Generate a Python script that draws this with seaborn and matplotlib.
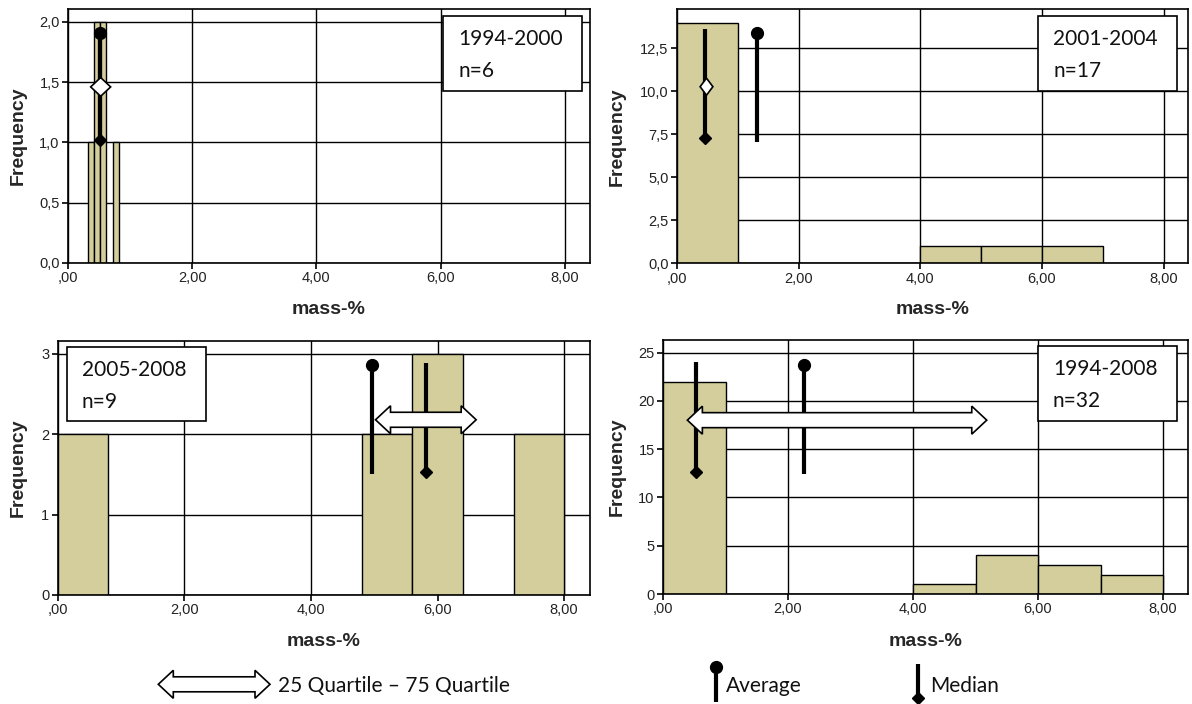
import numpy as np
import pandas as pd
import matplotlib
matplotlib.use("Agg")
import matplotlib.pyplot as plt
from matplotlib.patches import Polygon, Rectangle
from matplotlib.lines import Line2D
import seaborn as sns

# ---------------- data ----------------
period_labels = ["1994-2000", "2001-2004", "2005-2008", "1994-2008"]
n_values = [6, 17, 9, 32]

edges_1 = [0.32, 0.42, 0.52, 0.62, 0.72, 0.82]
counts_1 = [1, 2, 2, 0, 1]
edges_2 = [0, 1, 2, 3, 4, 5, 6, 7]
counts_2 = [14, 0, 0, 0, 1, 1, 1]
edges_3 = [0.0, 0.8, 1.6, 2.4, 3.2, 4.0, 4.8, 5.6, 6.4, 7.2, 8.0]
counts_3 = [2, 0, 0, 0, 0, 0, 2, 3, 0, 2]
edges_4 = [0, 1, 2, 3, 4, 5, 6, 7, 8]
counts_4 = [22, 0, 0, 0, 1, 4, 3, 2]

mean_x = [0.52, 1.31, 4.97, 2.26]
mean_top = [1.91, 13.4, 2.86, 23.7]
mean_bottom = [1.01, 7.07, 1.50, 12.4]
median_x = [0.52, 0.465, 5.82, 0.53]
median_top = [1.94, 13.6, 2.89, 24.0]
median_bottom = [1.02, 7.27, 1.53, 12.6]
q25 = [0.365, 0.38, 5.02, 0.39]
q75 = [0.687, 0.59, 6.61, 5.18]
q_level = [1.46, 10.27, 2.18, 18.0]

y_ticks = [[0, 0.5, 1.0, 1.5, 2.0],
           [0, 2.5, 5.0, 7.5, 10.0, 12.5],
           [0, 1, 2, 3],
           [0, 5, 10, 15, 20, 25]]
y_decimals = [1, 1, 0, 0]
y_max = [2.11, 14.77, 3.16, 26.3]
x_ticks = [0, 2, 4, 6, 8]
x_max = 8.4

legend_quartile = "25 Quartile \u2013 75 Quartile"
legend_average = "Average"
legend_median = "Median"
x_label = "mass-%"
y_label = "Frequency"

# ---------------- layout (pixels) ----------------
W, H = 1192, 704
axes_px = [(68, 8.5, 589.5, 263), (677, 9.3, 1188, 263.3),
           (57.7, 341, 589.5, 595), (663, 340, 1188, 594)]
box_px = [(443.3, 16, 581.7, 90.7), (1038.3, 16, 1176.7, 90.7),
          (66.7, 346.7, 205.7, 420.7), (1038, 346, 1176.7, 421)]
ylabel_x_px = [18, 617, 18, 617]
xlabel_y_px = [310, 310, 641, 641]

BAR = "#d3ce9b"
TICKFONT = "Liberation Sans"
BOXFONT = "Lato"

sns.set_theme(style="white")
plt.rcParams["font.family"] = ["Liberation Sans", "DejaVu Sans"]

fig = plt.figure(figsize=(W / 100, H / 100), dpi=100)
fig.patch.set_facecolor("white")


def fx(px):
    return px / W


def fy(py):
    return 1 - py / H


def xfmt(v):
    s = f"{v:.2f}".replace(".", ",")
    if s.startswith("0,"):
        s = s[1:]
    return s


def darrow_display(x0, x1, yc, shaft=7.5, head=14.0, hlen=15.0):
    d = x1 - x0
    if d < 2 * hlen:
        L = d / 2
        hh = max(8.5, head * d / (2 * hlen))
        return [(x0, yc), (x0 + L, yc + hh), (x1, yc), (x0 + L, yc - hh)]
    return [(x0, yc), (x0 + hlen, yc + head), (x0 + hlen, yc + shaft),
            (x1 - hlen, yc + shaft), (x1 - hlen, yc + head), (x1, yc),
            (x1 - hlen, yc - head), (x1 - hlen, yc - shaft),
            (x0 + hlen, yc - shaft), (x0 + hlen, yc - head)]


all_edges = [edges_1, edges_2, edges_3, edges_4]
all_counts = [counts_1, counts_2, counts_3, counts_4]

for i in range(4):
    l, t, r, b = axes_px[i]
    ax = fig.add_axes([fx(l), fy(b), fx(r) - fx(l), fy(t) - fy(b)])
    e = np.array(all_edges[i], dtype=float)
    df = pd.DataFrame({"center": (e[:-1] + e[1:]) / 2,
                       "count": np.array(all_counts[i], dtype=float)})
    sns.histplot(data=df, x="center", weights="count", bins=list(e), ax=ax,
                 color=BAR, edgecolor="black", linewidth=1.0, alpha=1.0,
                 stat="count", zorder=2)
    ax.set_xlim(0, x_max)
    ax.set_ylim(0, y_max[i])
    ax.set_xticks(x_ticks)
    ax.set_xticklabels([xfmt(v) for v in x_ticks], fontfamily=TICKFONT)
    yt = y_ticks[i]
    ax.set_yticks(yt)
    if y_decimals[i] == 1:
        ax.set_yticklabels([f"{v:.1f}".replace(".", ",") for v in yt],
                           fontfamily=TICKFONT)
    else:
        ax.set_yticklabels([f"{int(v)}" for v in yt], fontfamily=TICKFONT)
    ax.grid(True, color="black", linewidth=1.0)
    ax.set_axisbelow(True)
    for sp in ax.spines.values():
        sp.set_color("black")
        sp.set_linewidth(1.2)
    ax.tick_params(axis="both", direction="out", length=4, width=1.2,
                   color="black", labelsize=10.5, labelcolor="#222222", pad=2,
                   bottom=True, left=True)

    ax.set_xlabel(x_label, fontsize=14, fontweight="bold", family=TICKFONT)
    ax.set_ylabel(y_label, fontsize=14, fontweight="bold", family=TICKFONT)
    ax.xaxis.label.set_va("center")
    ax.yaxis.label.set_va("center")
    ax.xaxis.set_label_coords(0.5, (b - xlabel_y_px[i]) / (b - t))
    ax.yaxis.set_label_coords((ylabel_x_px[i] - l) / (r - l), 0.5)

    # average: vertical line with circle on top
    ax.plot([mean_x[i], mean_x[i]], [mean_bottom[i], mean_top[i]],
            color="black", lw=3.0, solid_capstyle="butt", zorder=5)
    ax.plot([mean_x[i]], [mean_top[i]], marker="o", ms=8.5, color="black",
            zorder=6, linestyle="none")
    # median: vertical line with diamond at the bottom
    ax.plot([median_x[i], median_x[i]], [median_bottom[i], median_top[i]],
            color="black", lw=3.0, solid_capstyle="butt", zorder=5)
    ax.plot([median_x[i]], [median_bottom[i]], marker="D", ms=6.5,
            color="black", zorder=6, linestyle="none")

    # quartile double arrow
    p0 = ax.transData.transform((q25[i], q_level[i]))
    p1 = ax.transData.transform((q75[i], q_level[i]))
    verts_disp = darrow_display(p0[0], p1[0], p0[1])
    verts_data = ax.transData.inverted().transform(verts_disp)
    ax.add_patch(Polygon(verts_data, closed=True, facecolor="white",
                         edgecolor="black", linewidth=1.2, zorder=7))

    # period text box
    bl, bt, br, bb = box_px[i]
    fig.add_artist(Rectangle((fx(bl), fy(bb)), fx(br) - fx(bl), fy(bt) - fy(bb),
                             transform=fig.transFigure, facecolor="white",
                             edgecolor="black", linewidth=1.2, zorder=3))
    fig.text(fx(bl + 15), fy(bt + 23), period_labels[i], family=BOXFONT,
             fontsize=15, va="center", ha="left", color="#111111", zorder=4)
    fig.text(fx(bl + 15), fy(bt + 55), f"n={n_values[i]}", family=BOXFONT,
             fontsize=15, va="center", ha="left", color="#111111", zorder=4)

# ---------------- bottom legend ----------------
inv = fig.transFigure.inverted()
leg_y = 684.3
legend_arrow = darrow_display(158.3, 270, H - leg_y)
fig.add_artist(Polygon(inv.transform(legend_arrow), closed=True,
                       facecolor="white", edgecolor="black", linewidth=1.2,
                       transform=fig.transFigure, zorder=3))
fig.text(fx(278), fy(leg_y + 2), legend_quartile, family=BOXFONT, fontsize=15,
         va="center", ha="left", color="#111111")

fig.add_artist(Line2D([fx(716), fx(716)], [fy(667), fy(702)], color="black",
                      lw=3.0, solid_capstyle="butt", transform=fig.transFigure))
fig.add_artist(Line2D([fx(716)], [fy(667)], marker="o", ms=8.5, color="black",
                      transform=fig.transFigure))
fig.text(fx(726), fy(leg_y + 2), legend_average, family=BOXFONT, fontsize=15,
         va="center", ha="left", color="#111111")

fig.add_artist(Line2D([fx(918), fx(918)], [fy(664), fy(698)], color="black",
                      lw=3.0, solid_capstyle="butt", transform=fig.transFigure))
fig.add_artist(Line2D([fx(918)], [fy(698)], marker="D", ms=6.5, color="black",
                      transform=fig.transFigure))
fig.text(fx(930), fy(leg_y + 2), legend_median, family=BOXFONT, fontsize=15,
         va="center", ha="left", color="#111111")

fig.savefig("out.png", dpi=100, facecolor="white")
